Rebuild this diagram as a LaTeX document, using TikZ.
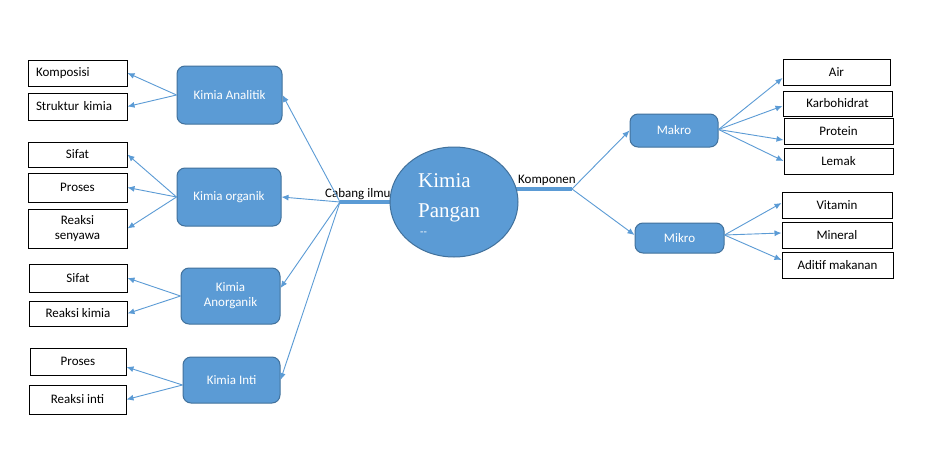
\documentclass[tikz,border=0pt]{standalone}
\usepackage{fontspec}
\setmainfont{Carlito}
\newfontfamily\serifk{Liberation Serif}
\usetikzlibrary{arrows.meta,shapes.geometric}
\definecolor{bfill}{HTML}{5B9BD5}
\definecolor{bdraw}{HTML}{41719C}
\definecolor{lblue}{HTML}{5B9BD5}
\begin{document}
\begin{tikzpicture}[x=1pt,y=-1pt,
  wbox/.style={draw=black, line width=1pt, fill=white, inner sep=0pt, font=\fontsize{13}{15}\selectfont, align=center},
  bbox/.style={draw=bdraw, line width=1pt, fill=bfill, rounded corners=8pt, text=white, inner sep=0pt, font=\fontsize{13}{15}\selectfont, align=center},
  conn/.style={draw=lblue, line width=0.9pt, -{Latex[length=7pt,width=6pt]}},
  barline/.style={draw=lblue, line width=3.5pt},
  lbl/.style={inner sep=0pt, font=\fontsize{13}{15}\selectfont, text=black}]
\useasboundingbox (0,0) rectangle (925,460);
\fill[white] (0,0) rectangle (925,460);

% left white boxes
\node[wbox, minimum width=99pt, minimum height=26pt, text width=83pt, inner xsep=8pt, align=left] (kom) at (77.5,73) {Komposisi};
\node[wbox, minimum width=99pt, minimum height=27pt, text width=83pt, inner xsep=8pt, align=left] (str) at (77.5,106.5) {Struktur kimia};
\node[wbox, minimum width=99pt, minimum height=25pt] (sfa) at (77.5,154.5) {Sifat};
\node[wbox, minimum width=99pt, minimum height=29pt] (pra) at (77.5,187.5) {Proses};
\node[wbox, minimum width=99pt, minimum height=39pt] (rs) at (77.5,228.5) {Reaksi\\senyawa};
\node[wbox, minimum width=98pt, minimum height=28pt] (sfb) at (78,278) {Sifat};
\node[wbox, minimum width=98pt, minimum height=25pt] (rk) at (78,313.5) {Reaksi kimia};
\node[wbox, minimum width=96pt, minimum height=27pt] (prb) at (78,361.5) {Proses};
\node[wbox, minimum width=97pt, minimum height=29pt] (ri) at (77.5,399.5) {Reaksi inti};

% blue boxes
\node[bbox, minimum width=105pt, minimum height=58pt] (ana) at (229.5,95) {Kimia Analitik};
\node[bbox, minimum width=104pt, minimum height=58pt] (org) at (229,197) {Kimia organik};
\node[bbox, minimum width=99pt, minimum height=56pt] (ano) at (230.5,296) {Kimia\\Anorganik};
\node[bbox, minimum width=97pt, minimum height=46pt] (inti) at (231.5,380) {Kimia Inti};
\node[bbox, minimum width=88pt, minimum height=33pt] (mak) at (674,130.5) {Makro};
\node[bbox, minimum width=89pt, minimum height=30pt] (mik) at (679.5,238) {Mikro};

% right white boxes
\node[wbox, minimum width=107pt, minimum height=26pt] (air) at (836.5,72) {Air};
\node[wbox, minimum width=109pt, minimum height=25pt] (kar) at (837.5,103.5) {Karbohidrat};
\node[wbox, minimum width=109pt, minimum height=26pt] (pro) at (838.5,131) {Protein};
\node[wbox, minimum width=109pt, minimum height=26pt] (lem) at (838.5,161) {Lemak};
\node[wbox, minimum width=110pt, minimum height=26pt] (vit) at (837,205) {Vitamin};
\node[wbox, minimum width=110pt, minimum height=26pt] (min) at (837,235) {Mineral};
\node[wbox, minimum width=111pt, minimum height=26pt] (adi) at (837.5,265) {Aditif makanan};

% hub coordinates and bars
\coordinate (cab) at (340,202);
\coordinate (kmp) at (572,189);
\coordinate (kmpL) at (512,189);
\draw[barline] (cab) -- (400,202);
\draw[barline] (kmpL) -- (kmp);

% central ellipse
\node[ellipse, draw=bdraw, line width=1pt, fill=bfill, minimum width=128pt, minimum height=110pt, inner sep=0pt] (pangan) at (454,202) {};
\node[anchor=base west, inner sep=0pt, text=white, font=\serifk\fontsize{21}{25}\selectfont] (tk) at (418,187) {Kimia};
\node[anchor=base west, inner sep=0pt, text=white, font=\serifk\fontsize{21}{25}\selectfont] (tp) at (418,217) {Pangan};
\node[anchor=base west, inner sep=0pt, text=white, font=\fontsize{11}{13}\selectfont] (td) at (420,235) {{-}{-}};

% labels
\node[lbl, anchor=base west] (lcab) at (325,197) {Cabang ilmu};
\node[lbl, anchor=base west] (lkmp) at (518,183) {Komponen};

% connectors from hub left
\draw[conn] (cab) -- (ana.east);
\draw[conn] (cab) -- (org.east);
\draw[conn] (cab) -- ([yshift=8pt]ano.east);
\draw[conn] (cab) -- (inti.east);

% blue to left white
\draw[conn] (ana.west) -- (kom.east);
\draw[conn] (ana.west) -- (str.east);
\draw[conn] (org.west) -- (sfa.east);
\draw[conn] (org.west) -- (pra.east);
\draw[conn] (org.west) -- (rs.east);
\draw[conn] (ano.west) -- (sfb.east);
\draw[conn] (ano.west) -- (rk.east);
\draw[conn] ([yshift=-5pt]inti.west) -- ([yshift=-5.5pt]prb.east);
\draw[conn] ([yshift=-5pt]inti.west) -- (ri.east);

% right side
\draw[conn] (kmp) -- (mak.west);
\draw[conn] (kmp) -- ([yshift=3pt]mik.west);
\draw[conn] ([yshift=1pt]mak.east) -- ([yshift=-6pt]air.west);
\draw[conn] ([yshift=1pt]mak.east) -- ([yshift=-2.5pt]kar.west);
\draw[conn] ([yshift=1pt]mak.east) -- ([yshift=-9pt]pro.west);
\draw[conn] ([yshift=1pt]mak.east) -- (lem.west);
\draw[conn] ([yshift=3pt]mik.east) -- ([yshift=2pt]vit.west);
\draw[conn] ([yshift=3pt]mik.east) -- ([yshift=2pt]min.west);
\draw[conn] ([yshift=3pt]mik.east) -- ([yshift=5pt]adi.west);
\end{tikzpicture}
\end{document}
